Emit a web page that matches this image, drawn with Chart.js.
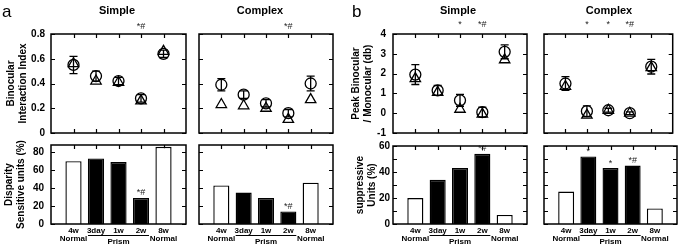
<!DOCTYPE html>
<html>
<head>
<meta charset="utf-8">
<script src="https://cdn.jsdelivr.net/npm/chart.js@4.4.0/dist/chart.umd.min.js"></script>
<style>
  body { margin: 0; background: #fff; }
  #wrap { position: relative; width: 680px; height: 248px; overflow: hidden; font-family: "Liberation Sans", Arial, sans-serif; color: #000; }
  #wrap canvas { position: absolute; left: 0; top: 0; }
  .lbl { position: absolute; white-space: nowrap; text-align: center; }
  .head { font-size: 11px; line-height: 11px; font-weight: bold; width: 80px; top: 5px; }
  .tag { font-size: 17px; line-height: 17px; top: 3px; }
</style>
</head>
<body>
<div id="wrap">
  <canvas id="aSimpleTop" width="680" height="248"></canvas>
  <canvas id="aComplexTop" width="680" height="248"></canvas>
  <canvas id="aSimpleBot" width="680" height="248"></canvas>
  <canvas id="aComplexBot" width="680" height="248"></canvas>
  <canvas id="bSimpleTop" width="680" height="248"></canvas>
  <canvas id="bComplexTop" width="680" height="248"></canvas>
  <canvas id="bSimpleBot" width="680" height="248"></canvas>
  <canvas id="bComplexBot" width="680" height="248"></canvas>
  <div class="lbl tag" style="left:2px">a</div>
  <div class="lbl tag" style="left:352px">b</div>
  <div class="lbl head" style="left:77px">Simple</div>
  <div class="lbl head" style="left:220px">Complex</div>
  <div class="lbl head" style="left:418px">Simple</div>
  <div class="lbl head" style="left:569px">Complex</div>
</div>
<script>
// x categories (first and last slots are empty so groups sit at 1..5)
const groups = ['', ['4w', 'Normal'], '3day', '1w', '2w', ['8w', 'Normal'], ''];

// a: binocular interaction index, circles (mean +- SE) and triangles
const aSimpleCircle = [0.55, 0.46, 0.42, 0.28, 0.64];
const aSimpleCircleErr = [0.07, 0.04, 0.03, 0.03, 0.03];
const aSimpleTriangle = [0.56, 0.42, 0.41, 0.26, 0.66];
const aComplexCircle = [0.39, 0.31, 0.24, 0.16, 0.40];
const aComplexCircleErr = [0.05, 0.03, 0.03, 0.03, 0.06];
const aComplexTriangle = [0.23, 0.22, 0.20, 0.11, 0.27];
// a: disparity sensitive units (%)
const aSimpleBars = [70, 73, 69, 29, 86];
const aComplexBars = [43, 35, 29, 14, 46];

// b: peak binocular / monocular (db)
const bSimpleCircle = [1.95, 1.15, 0.65, 0.05, 3.1];
const bSimpleCircleErr = [0.5, 0.25, 0.3, 0.25, 0.35];
const bSimpleTriangle = [1.75, 1.05, 0.2, -0.05, 2.7];
const bComplexCircle = [1.5, 0.1, 0.15, 0.0, 2.35];
const bComplexCircleErr = [0.35, 0.27, 0.1, 0.07, 0.37];
const bComplexTriangle = [1.35, -0.1, 0.15, 0.0, 2.3];
// b: suppressive units (%)
const bSimpleBars = [20, 34, 43, 54, 7];
const bComplexBars = [25, 52, 43, 45, 12];

// significance marks per group
const aSimpleTopMarks = ['', '', '', '*#', ''];
const aComplexTopMarks = ['', '', '', '*#', ''];
const aSimpleBarMarks = ['', '', '', '*#', ''];
const aComplexBarMarks = ['', '', '', '*#', ''];
const bSimpleTopMarks = ['', '', '*', '*#', ''];
const bComplexTopMarks = ['', '*', '*', '*#', ''];
const bSimpleBarMarks = ['', '', '', '*#', ''];
const bComplexBarMarks = ['', '*', '*', '*#', ''];

// y tick values and labels
const aTopTicks = [0, 0.2, 0.4, 0.6, 0.8];
const aTopTickLabels = ['0', '0.2', '0.4', '0.6', '0.8'];
const aBarTicks = [0, 20, 40, 60, 80];
const aBarTickLabels = ['0', '20', '40', '60', '80'];
const bTopTicks = [-1, 0, 1, 2, 3, 4];
const bTopTickLabels = ['-1', '0', '1', '2', '3', '4'];
const bBarTicks = [0, 10, 20, 30, 40, 50, 60];
const bBarTickLabels = ['0', '', '20', '', '40', '', '60'];

const FONT = '"Liberation Sans", Arial, sans-serif';
Chart.defaults.font.family = FONT;
Chart.defaults.color = '#000';

const pad = (arr) => [null, ...arr, null];

// frame, inward ticks, error bars, marks and the "Prism" bracket
const framePlugin = {
  id: 'frame',
  beforeDatasetsDraw(chart, args, o) {
    const { ctx, chartArea: a, scales: { x, y } } = chart;
    ctx.save();
    ctx.strokeStyle = '#000';
    ctx.lineWidth = 1.2;
    ctx.beginPath();
    for (let i = 1; i <= 5; i++) {
      const px = Math.round(x.getPixelForValue(i)) + 0.5;
      ctx.moveTo(px, a.top); ctx.lineTo(px, a.top + 4);
      ctx.moveTo(px, a.bottom); ctx.lineTo(px, a.bottom - 4);
    }
    o.ticks.forEach((v) => {
      const py = Math.round(y.getPixelForValue(v)) + 0.5;
      ctx.moveTo(a.left, py); ctx.lineTo(a.left + 4, py);
      ctx.moveTo(a.right, py); ctx.lineTo(a.right - 4, py);
    });
    ctx.stroke();
    ctx.restore();
  },
  afterDatasetsDraw(chart, args, o) {
    const { ctx, chartArea: a, scales: { x, y } } = chart;
    ctx.save();
    ctx.strokeStyle = '#000';
    // error bars on the circles
    if (o.circle) {
      ctx.lineWidth = 1.3;
      ctx.beginPath();
      o.circle.forEach((v, i) => {
        const px = x.getPixelForValue(i + 1);
        const hi = y.getPixelForValue(v + o.err[i]);
        const lo = y.getPixelForValue(v - o.err[i]);
        ctx.moveTo(px, hi); ctx.lineTo(px, lo);
        ctx.moveTo(px - 4, hi); ctx.lineTo(px + 4, hi);
        ctx.moveTo(px - 4, lo); ctx.lineTo(px + 4, lo);
      });
      ctx.stroke();
    }
    // box
    ctx.lineWidth = 1.5;
    ctx.strokeRect(a.left, a.top, a.right - a.left, a.bottom - a.top);
    // significance marks
    ctx.fillStyle = '#222';
    ctx.font = '9px ' + FONT;
    ctx.textAlign = 'center';
    ctx.textBaseline = 'middle';
    o.marks.forEach((m, i) => {
      if (!m) return;
      const px = x.getPixelForValue(i + 1);
      const py = o.bars ? y.getPixelForValue(o.bars[i]) - 5 : a.top - o.markGap;
      ctx.fillText(m, px, py);
    });
    // Prism bracket under 3day..2w
    if (o.bars) {
      const x1 = x.getPixelForValue(2) - 8;
      const x2 = x.getPixelForValue(4) + 8;
      const ly = a.bottom + 11.5;
      ctx.lineWidth = 1;
      ctx.beginPath();
      ctx.moveTo(x1, ly); ctx.lineTo(x2, ly);
      ctx.stroke();
      ctx.fillStyle = '#000';
      ctx.font = 'bold 8px ' + FONT;
      ctx.fillText('Prism', x.getPixelForValue(3), a.bottom + 17.5);
    }
    ctx.restore();
  }
};

function buildPanel(id, s) {
  const [bl, bt, br, bb] = s.box;
  const isBar = !!s.bars;
  const leftPad = s.title ? bl - s.axisW : bl;
  const bottomPad = isBar ? 248 - bb - 24 : 248 - bb;
  const labels = s.tickLabels || s.ticks.map(() => '');

  const datasets = isBar
    ? [{
        data: pad(s.bars),
        backgroundColor: ['#fff', '#fff', '#000', '#000', '#000', '#fff', '#fff'],
        borderColor: '#000',
        borderWidth: 1.4,
        barPercentage: 0.72,
        categoryPercentage: 1
      }]
    : [
        {
          data: pad(s.tri),
          showLine: false,
          pointStyle: 'triangle',
          pointRadius: 6,
          pointBorderWidth: 1.3,
          borderColor: '#000',
          backgroundColor: 'rgba(0,0,0,0)'
        },
        {
          data: pad(s.circle),
          showLine: false,
          pointStyle: 'circle',
          pointRadius: 5.5,
          pointBorderWidth: 1.3,
          borderColor: '#000',
          backgroundColor: 'rgba(0,0,0,0)'
        }
      ];

  const yScale = {
    min: s.yMin,
    max: s.yMax,
    display: !!s.title,
    afterBuildTicks: (sc) => { sc.ticks = s.ticks.map((v) => ({ value: v })); },
    afterFit: (sc) => { sc.width = s.title ? s.axisW : 0; },
    grid: { display: false, drawTicks: false },
    border: { display: false },
    ticks: {
      font: { size: 10, weight: 'bold' },
      color: '#000',
      padding: s.tickPad || 5,
      callback: (v, i) => (labels[i] !== undefined ? labels[i] : '')
    },
    title: {
      display: !!s.title,
      text: s.title || '',
      color: '#000',
      font: { size: 10, weight: 'bold', lineHeight: 1.2 },
      padding: { top: s.titlePad || 0, bottom: 0 }
    }
  };

  const xScale = {
    type: 'category',
    offset: false,
    display: isBar,
    afterFit: (sc) => { sc.height = isBar ? 24 : 0; },
    grid: { display: false, drawTicks: false },
    border: { display: false },
    ticks: {
      autoSkip: false,
      maxRotation: 0,
      minRotation: 0,
      padding: 3,
      color: '#000',
      font: { size: 8, weight: 'bold', lineHeight: 1 }
    }
  };

  return new Chart(document.getElementById(id), {
    type: isBar ? 'bar' : 'line',
    data: { labels: groups, datasets },
    options: {
      responsive: false,
      animation: false,
      events: [],
      layout: { padding: { left: leftPad, top: bt, right: 680 - br, bottom: bottomPad } },
      scales: { x: xScale, y: yScale },
      plugins: {
        legend: { display: false },
        tooltip: { enabled: false },
        frame: {
          ticks: s.ticks,
          circle: s.circle,
          err: s.err,
          bars: s.bars,
          marks: s.marks,
          markGap: s.markGap || 7
        }
      }
    },
    plugins: [framePlugin]
  });
}

// panel a
buildPanel('aSimpleTop', {
  box: [51, 34, 186, 133], yMin: 0, yMax: 0.8,
  ticks: aTopTicks, tickLabels: aTopTickLabels, tickPad: 6,
  title: ['Binocular', 'Interaction Index'], axisW: 51, titlePad: 5,
  circle: aSimpleCircle, err: aSimpleCircleErr, tri: aSimpleTriangle,
  marks: aSimpleTopMarks, markGap: 7
});
buildPanel('aComplexTop', {
  box: [199, 34, 333, 133], yMin: 0, yMax: 0.8, ticks: aTopTicks,
  circle: aComplexCircle, err: aComplexCircleErr, tri: aComplexTriangle,
  marks: aComplexTopMarks, markGap: 7
});
buildPanel('aSimpleBot', {
  box: [51, 145, 186, 224], yMin: 0, yMax: 88,
  ticks: aBarTicks, tickLabels: aBarTickLabels, tickPad: 7,
  title: ['Disparity', 'Sensitive units (%)'], axisW: 51, titlePad: 3,
  bars: aSimpleBars, marks: aSimpleBarMarks
});
buildPanel('aComplexBot', {
  box: [199, 145, 333, 224], yMin: 0, yMax: 88, ticks: aBarTicks,
  bars: aComplexBars, marks: aComplexBarMarks
});

// panel b
buildPanel('bSimpleTop', {
  box: [393, 34, 527, 133], yMin: -1, yMax: 4,
  ticks: bTopTicks, tickLabels: bTopTickLabels, tickPad: 7,
  title: ['Peak Binocular', '/ Monocular (db)'], axisW: 53, titlePad: 10,
  circle: bSimpleCircle, err: bSimpleCircleErr, tri: bSimpleTriangle,
  marks: bSimpleTopMarks, markGap: 9
});
buildPanel('bComplexTop', {
  box: [544, 34, 677, 133], yMin: -1, yMax: 4, ticks: bTopTicks,
  circle: bComplexCircle, err: bComplexCircleErr, tri: bComplexTriangle,
  marks: bComplexTopMarks, markGap: 9
});
buildPanel('bSimpleBot', {
  box: [393, 146, 527, 224], yMin: 0, yMax: 60,
  ticks: bBarTicks, tickLabels: bBarTickLabels, tickPad: 3,
  title: ['suppressive', 'Units (%)'], axisW: 53, titlePad: 14,
  bars: bSimpleBars, marks: bSimpleBarMarks
});
buildPanel('bComplexBot', {
  box: [544, 146, 677, 224], yMin: 0, yMax: 60, ticks: bBarTicks,
  bars: bComplexBars, marks: bComplexBarMarks
});
</script>
</body>
</html>
